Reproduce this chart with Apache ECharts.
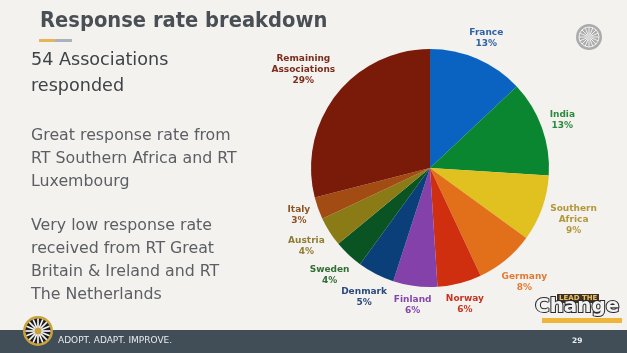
<!DOCTYPE html>
<html>
<head>
<meta charset="utf-8">
<script src="https://cdn.jsdelivr.net/npm/echarts@6/dist/echarts.min.js"></script>
<style>
  html, body { margin: 0; padding: 0; background: #f4f2ef; }
  #main { width: 627px; height: 353px; }
</style>
</head>
<body>
<div id="main"></div>
<script>
// slices, clockwise from 12 o'clock
const names = ['France', 'India', 'Southern\nAfrica', 'Germany', 'Norway', 'Finland',
  'Denmark', 'Sweden', 'Austria', 'Italy', 'Remaining\nAssociations'];
const shares = [13, 13, 9, 8, 6, 6, 5, 4, 4, 3, 29];
const sliceColors = ['#0b63c1', '#0a8630', '#e0c11f', '#e2701a', '#cf2f0f', '#8441aa',
  '#0b3f7a', '#0a5322', '#8b7b17', '#a24b12', '#7a1a08'];
const labelColors = ['#2f62a4', '#2a8a3c', '#b3983a', '#e07a34', '#c8321f', '#8446ad',
  '#2b4a7c', '#2f6e34', '#8f7e34', '#8c5424', '#7b2c1c'];

const chart = echarts.init(document.getElementById('main'));

const font = 'DejaVu Sans, Verdana, sans-serif';
const cx = 430, cy = 168, R = 119;

// mid angle of each slice (radians, counter-clockwise from 3 o'clock)
const total = shares.reduce(function (a, b) { return a + b; }, 0);
let acc = 0;
const midAngles = shares.map(function (v) {
  const mid = acc + v / 2;
  acc += v;
  return Math.PI / 2 - mid / total * 2 * Math.PI;
});

// left-hand text lines
const bodyLines = [
  { t: '54 Associations', y: 62, s: 17.6, c: '#3e4347' },
  { t: 'responded', y: 88, s: 17.6, c: '#3e4347' },
  { t: 'Great response rate from', y: 137, s: 15.8, c: '#5b5f63' },
  { t: 'RT Southern Africa and RT', y: 160, s: 15.8, c: '#5b5f63' },
  { t: 'Luxembourg', y: 183, s: 15.8, c: '#5b5f63' },
  { t: 'Very low response rate', y: 227, s: 15.8, c: '#5b5f63' },
  { t: 'received from RT Great', y: 250, s: 15.8, c: '#5b5f63' },
  { t: 'Britain & Ireland and RT', y: 273, s: 15.8, c: '#5b5f63' },
  { t: 'The Netherlands', y: 296, s: 15.8, c: '#5b5f63' }
];

const graphics = [
  { type: 'text', x: 40, y: 11, scaleX: 0.93, style: { text: 'Response rate breakdown', font: 'bold 21px ' + font, fill: '#4a4f55' } },
  { type: 'rect', shape: { x: 39, y: 39, width: 16, height: 3 }, style: { fill: '#e8b45a' } },
  { type: 'rect', shape: { x: 55, y: 39, width: 17, height: 3 }, style: { fill: '#a9b3bd' } },
  // footer
  { type: 'rect', shape: { x: 0, y: 330, width: 627, height: 23 }, style: { fill: '#414d57' } },
  { type: 'text', x: 58, y: 336, style: { text: 'ADOPT. ADAPT. IMPROVE.', font: '9px ' + font, fill: '#e8ecef', letterSpacing: 0.8 } },
  { type: 'text', x: 572, y: 337, style: { text: '29', font: 'bold 7.5px ' + font, fill: '#e8ecef' } },
  // round table wheel, bottom left
  { type: 'circle', shape: { cx: 38, cy: 331, r: 15 }, style: { fill: '#c9a23c' } },
  { type: 'circle', shape: { cx: 38, cy: 331, r: 12.5 }, style: { fill: '#1d1d1d' } },
  // round table wheel, top right
  { type: 'circle', shape: { cx: 589, cy: 37, r: 13 }, style: { fill: '#acacac' } },
  { type: 'circle', shape: { cx: 589, cy: 37, r: 10 }, style: { fill: 'none', stroke: '#ededed', lineWidth: 1 } },
  // lead the change logo
  { type: 'rect', shape: { x: 557, y: 294, width: 42, height: 9 }, style: { fill: '#3a3328' } },
  { type: 'text', x: 559, y: 295, style: { text: 'LEAD THE', font: 'bold 7px ' + font, fill: '#f0c060' } },
  { type: 'rect', shape: { x: 542, y: 318, width: 80, height: 5 }, style: { fill: '#eeb538' } },
  { type: 'text', x: 535, y: 298, scaleX: 1.05, style: { text: 'Change', font: 'bold 19px ' + font, fill: '#f2f2f2', stroke: '#2b2b2b', lineWidth: 2 } }
];

// spokes for both wheels
for (let i = 0; i < 8; i++) {
  const a = i * Math.PI / 8;
  graphics.push({ type: 'line', shape: { x1: 38 - 12.5 * Math.cos(a), y1: 331 - 12.5 * Math.sin(a), x2: 38 + 12.5 * Math.cos(a), y2: 331 + 12.5 * Math.sin(a) }, style: { stroke: '#f5f5f5', lineWidth: 1.7 } });
  graphics.push({ type: 'line', shape: { x1: 589 - 10 * Math.cos(a), y1: 37 - 10 * Math.sin(a), x2: 589 + 10 * Math.cos(a), y2: 37 + 10 * Math.sin(a) }, style: { stroke: '#f2f2f2', lineWidth: 1 } });
}
graphics.push({ type: 'circle', shape: { cx: 38, cy: 331, r: 3.5 }, style: { fill: '#c9a23c' } });
graphics.push({ type: 'circle', shape: { cx: 589, cy: 37, r: 3 }, style: { fill: '#d8d8d8' } });

bodyLines.forEach(function (l) {
  graphics.push({ type: 'text', left: 31, top: l.y - l.s * 0.6, style: { text: l.t, font: l.s + 'px ' + font, fill: l.c } });
});

const option = {
  backgroundColor: '#f4f2ef',
  animation: false,
  graphic: graphics,
  series: [{
    type: 'pie',
    center: [cx, cy],
    radius: R,
    startAngle: 90,
    clockwise: true,
    avoidLabelOverlap: false,
    itemStyle: { borderWidth: 0 },
    label: {
      position: 'outside',
      formatter: '{b}\n{c}%',
      fontFamily: font,
      fontWeight: 'bold',
      fontSize: 9,
      lineHeight: 11,
      align: 'center'
    },
    labelLine: { show: false, length: 10, length2: 0 },
    // put each label box just outside the rim, centred on the slice's mid angle
    labelLayout: function (p) {
      const a = midAngles[p.dataIndex];
      const c = Math.cos(a), s = Math.sin(a);
      const w = p.labelRect.width, h = p.labelRect.height;
      const d = R + 6 + Math.abs(c) * w / 2 + Math.abs(s) * h / 2;
      return { x: cx + d * c, y: cy - d * s, align: 'center', verticalAlign: 'middle' };
    },
    data: names.map(function (n, i) {
      return {
        name: n,
        value: shares[i],
        itemStyle: { color: sliceColors[i] },
        label: { color: labelColors[i] }
      };
    })
  }]
};

chart.setOption(option);
</script>
</body>
</html>
